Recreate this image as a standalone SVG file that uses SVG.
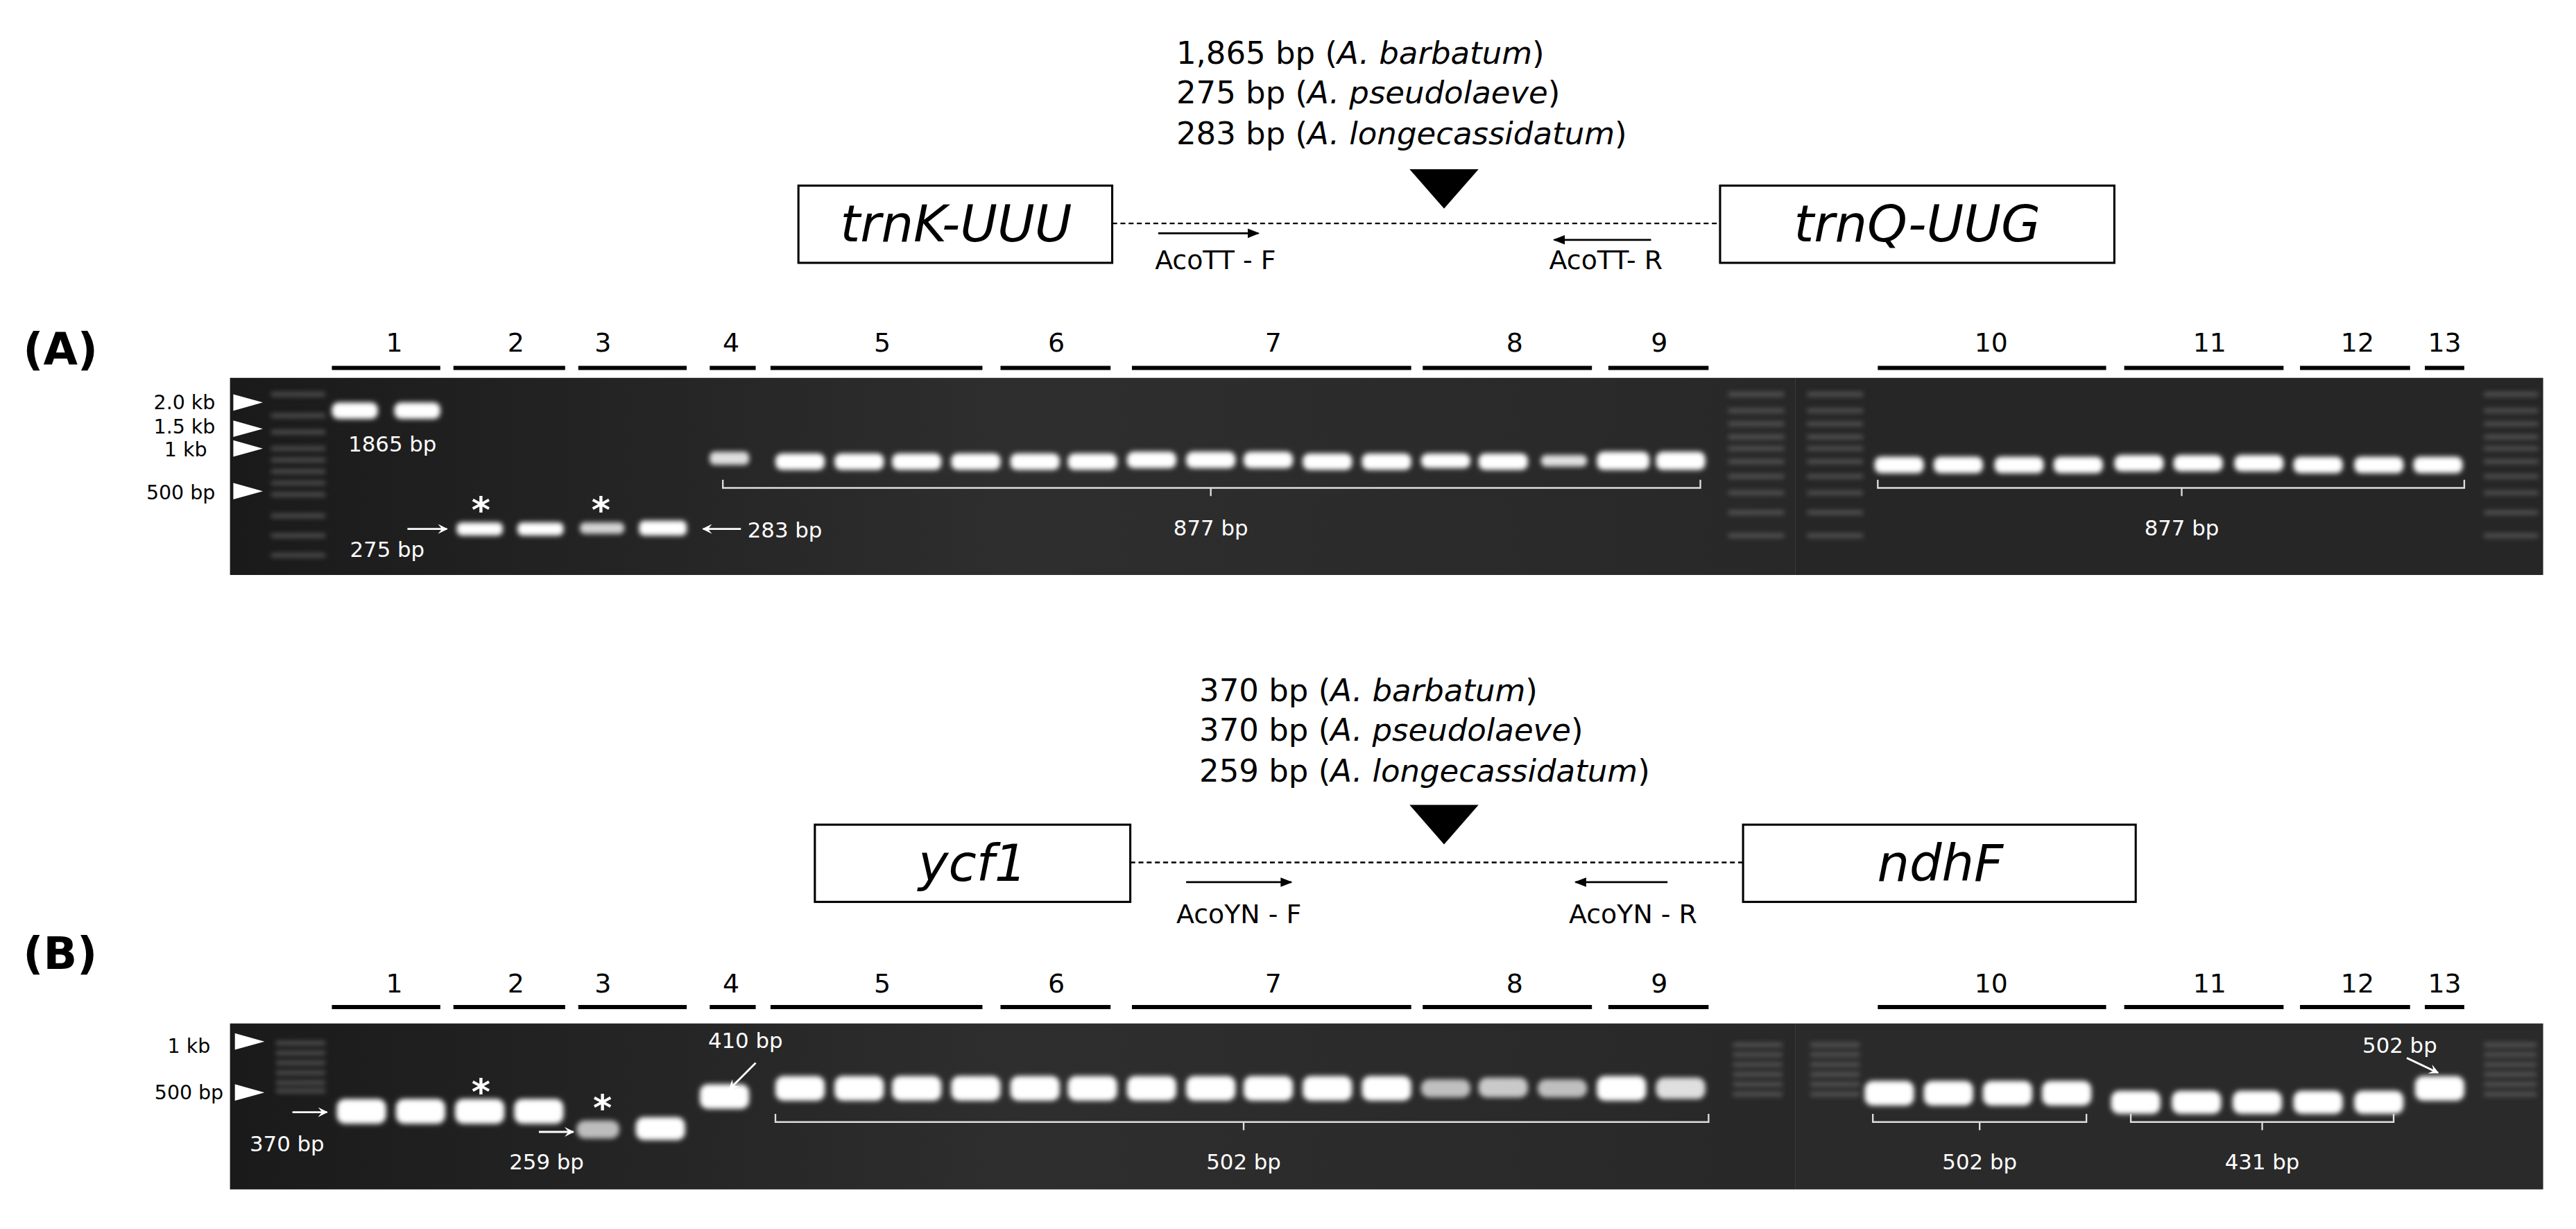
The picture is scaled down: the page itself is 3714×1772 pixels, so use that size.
<svg xmlns="http://www.w3.org/2000/svg" width="3714" height="1772" viewBox="0 0 3714 1772">
<defs>
<filter id="g" x="-30%" y="-80%" width="160%" height="260%"><feGaussianBlur stdDeviation="1.6"/></filter>
<linearGradient id="gel" x1="0" y1="0" x2="1" y2="0"><stop offset="0" stop-color="#1a1a1a"/><stop offset="0.5" stop-color="#2e2e2e"/><stop offset="1" stop-color="#282828"/></linearGradient>
<marker id="ah" viewBox="0 0 10 10" refX="9" refY="5" markerWidth="6" markerHeight="6" orient="auto"><path d="M0,1 L10,5 L0,9 z" fill="#000"/></marker>
<marker id="wh" viewBox="0 0 10 10" refX="9" refY="5" markerWidth="5" markerHeight="5" orient="auto"><path d="M0,0 L10,5 L0,10 L4,5 z" fill="#fff"/></marker>
<style>
text{font-family:"DejaVu Sans","Noto Sans",sans-serif;}
.t{font-size:19px;fill:#000}
.lab{font-size:16px;fill:#000}
.num{font-size:16px;fill:#000;text-anchor:middle}
.gene{font-size:31px;font-style:italic;text-anchor:middle}
.box{fill:#fff;stroke:#000;stroke-width:1.3}
.bar{stroke:#000;stroke-width:2.5}
.dash{stroke:#000;stroke-width:1;stroke-dasharray:3,2}
.pr{stroke:#000;stroke-width:1.2;marker-end:url(#ah)}
.w{fill:#fff;font-size:13px}
.ast{fill:#fff;font-size:22px;font-weight:bold}
.wa{stroke:#fff;stroke-width:1.2;fill:none;marker-end:url(#wh)}
.br{stroke:#ddd;stroke-width:1;fill:none}
.b{fill:#fff;filter:url(#g)}
.ld{stroke:#777;stroke-width:2.5;filter:url(#g);opacity:0.6}
.mk{fill:#fff}
.pl{font-size:27px;font-weight:bold}
.mt{font-size:12px;fill:#000;text-anchor:end}
</style>
</defs>
<g transform="scale(2.36862)">
<g id="infoA">
<text class="t" x="716" y="39">1,865 bp (<tspan font-style="italic">A. barbatum</tspan>)</text>
<text class="t" x="716" y="63">275 bp (<tspan font-style="italic">A. pseudolaeve</tspan>)</text>
<text class="t" x="716" y="88">283 bp (<tspan font-style="italic">A. longecassidatum</tspan>)</text>
<polygon points="858,103 900,103 879,127" fill="#000"/>
</g>
<g id="trnK"><rect class="box" x="486" y="113" width="191" height="47"/><text class="gene" x="582" y="147">trnK-UUU</text></g>
<g id="trnQ"><rect class="box" x="1047" y="113" width="240" height="47"/><text class="gene" x="1167" y="147">trnQ-UUG</text></g>
<g id="connectorsA">
<line class="dash" x1="677" y1="136" x2="1047" y2="136"/>
<line class="pr" x1="705" y1="142" x2="766" y2="142"/>
<line class="pr" x1="1005" y1="146" x2="946" y2="146"/>
</g>
<text class="lab" x="703" y="164">AcoTT - F</text>
<text class="lab" x="943" y="164">AcoTT- R</text>
<text class="pl" x="14" y="222">(A)</text>
<g id="lanesA">
<text class="num" x="240" y="214">1</text><text class="num" x="314" y="214">2</text><text class="num" x="367" y="214">3</text><text class="num" x="445" y="214">4</text><text class="num" x="537" y="214">5</text><text class="num" x="643" y="214">6</text><text class="num" x="775" y="214">7</text><text class="num" x="922" y="214">8</text><text class="num" x="1010" y="214">9</text><text class="num" x="1212" y="214">10</text><text class="num" x="1345" y="214">11</text><text class="num" x="1435" y="214">12</text><text class="num" x="1488" y="214">13</text>
<path class="bar" d="M202,224H268M276,224H344M352,224H418M432,224H460M469,224H598M609,224H676M689,224H859M866,224H969M979,224H1040M1143,224H1282M1293,224H1390M1400,224H1467M1476,224H1500"/>
</g>
<g id="gelA">
<rect x="140" y="230" width="953" height="120" fill="url(#gel)"/>
<rect x="1093" y="230" width="455" height="120" fill="#262626"/>
<path class="ld" d="M165,240H198M165,253H198M165,263H198M165,273H198M165,280H198M165,287H198M165,294H198M165,301H198M165,314H198M165,326H198M165,338H198"/>
<path class="ld" d="M1052,240H1086M1052,250H1086M1052,258H1086M1052,266H1086M1052,273H1086M1052,281H1086M1052,290H1086M1052,300H1086M1052,312H1086M1052,326H1086"/>
<path class="ld" d="M1100,240H1134M1100,250H1134M1100,258H1134M1100,266H1134M1100,273H1134M1100,281H1134M1100,290H1134M1100,300H1134M1100,312H1134M1100,326H1134"/>
<path class="ld" d="M1512,240H1545M1512,250H1545M1512,258H1545M1512,266H1545M1512,273H1545M1512,281H1545M1512,290H1545M1512,300H1545M1512,312H1545M1512,326H1545"/>
<polygon class="mk" points="142,240 160,245 142,250"/><polygon class="mk" points="142,256 160,261 142,266"/><polygon class="mk" points="142,268 160,273 142,278"/><polygon class="mk" points="142,294 160,299 142,304"/>
<g>
<rect class="b" x="202" y="245" width="28" height="10" rx="4"/><rect class="b" x="240" y="245" width="28" height="10" rx="4"/>
<rect class="b" x="278" y="318" width="28" height="8" rx="3"/><rect class="b" x="315" y="318" width="28" height="8" rx="3"/><rect class="b" x="353" y="318" width="27" height="7" rx="3" opacity="0.8"/><rect class="b" x="389" y="317" width="29" height="9" rx="3"/>
<rect class="b" x="432" y="275" width="24" height="8" rx="3" opacity="0.85"/>
<rect class="b" x="472" y="276" width="30" height="10" rx="4"/><rect class="b" x="508" y="276" width="30" height="10" rx="4"/><rect class="b" x="543" y="276" width="30" height="10" rx="4"/><rect class="b" x="579" y="276" width="30" height="10" rx="4"/><rect class="b" x="615" y="276" width="30" height="10" rx="4"/><rect class="b" x="650" y="276" width="30" height="10" rx="4"/><rect class="b" x="686" y="275" width="30" height="10" rx="4"/><rect class="b" x="722" y="275" width="30" height="10" rx="4"/><rect class="b" x="757" y="275" width="30" height="10" rx="4"/><rect class="b" x="793" y="276" width="30" height="10" rx="4"/><rect class="b" x="829" y="276" width="30" height="10" rx="4"/><rect class="b" x="865" y="276" width="30" height="9" rx="4"/><rect class="b" x="900" y="276" width="30" height="10" rx="4"/><rect class="b" x="938" y="277" width="28" height="7" rx="3" opacity="0.85"/><rect class="b" x="972" y="275" width="32" height="11" rx="4"/><rect class="b" x="1008" y="275" width="30" height="11" rx="4"/>
<rect class="b" x="1141" y="278" width="30" height="10" rx="4"/><rect class="b" x="1177" y="278" width="30" height="10" rx="4"/><rect class="b" x="1214" y="278" width="30" height="10" rx="4"/><rect class="b" x="1250" y="278" width="30" height="10" rx="4"/><rect class="b" x="1287" y="277" width="30" height="10" rx="4"/><rect class="b" x="1323" y="277" width="30" height="10" rx="4"/><rect class="b" x="1360" y="277" width="30" height="10" rx="4"/><rect class="b" x="1396" y="278" width="30" height="10" rx="4"/><rect class="b" x="1433" y="278" width="30" height="10" rx="4"/><rect class="b" x="1469" y="278" width="30" height="10" rx="4"/>
</g>
<text class="w" x="212" y="275">1865 bp</text>
<text class="w" x="213" y="339">275 bp</text>
<line class="wa" x1="248" y1="322" x2="272" y2="322"/>
<line class="wa" x1="451" y1="322" x2="428" y2="322"/>
<text class="w" x="455" y="327">283 bp</text>
<text class="ast" x="287" y="318">*</text><text class="ast" x="360" y="318">*</text>
<path class="br" d="M440,292V297H1035V292M737,297V302"/>
<text class="w" x="737" y="326" text-anchor="middle">877 bp</text>
<path class="br" d="M1143,292V297H1500V292M1328,297V302"/>
<text class="w" x="1328" y="326" text-anchor="middle">877 bp</text>
</g>
<g id="markersA">
<text class="mt" x="131" y="249">2.0 kb</text>
<text class="mt" x="131" y="264">1.5 kb</text>
<text class="mt" x="126" y="278">1 kb</text>
<text class="mt" x="131" y="304">500 bp</text>
</g>
<g id="infoB">
<text class="t" x="730" y="427">370 bp (<tspan font-style="italic">A. barbatum</tspan>)</text>
<text class="t" x="730" y="451">370 bp (<tspan font-style="italic">A. pseudolaeve</tspan>)</text>
<text class="t" x="730" y="476">259 bp (<tspan font-style="italic">A. longecassidatum</tspan>)</text>
<polygon points="858,490 900,490 879,514" fill="#000"/>
</g>
<g id="ycf1"><rect class="box" x="496" y="502" width="192" height="47"/><text class="gene" x="592" y="536">ycf1</text></g>
<g id="ndhF"><rect class="box" x="1061" y="502" width="239" height="47"/><text class="gene" x="1181" y="536">ndhF</text></g>
<g id="connectorsB">
<line class="dash" x1="688" y1="525" x2="1061" y2="525"/>
<line class="pr" x1="722" y1="537" x2="786" y2="537"/>
<line class="pr" x1="1015" y1="537" x2="959" y2="537"/>
</g>
<text class="lab" x="716" y="562">AcoYN - F</text>
<text class="lab" x="955" y="562">AcoYN - R</text>
<text class="pl" x="14" y="590">(B)</text>
<g id="lanesB">
<text class="num" x="240" y="604">1</text><text class="num" x="314" y="604">2</text><text class="num" x="367" y="604">3</text><text class="num" x="445" y="604">4</text><text class="num" x="537" y="604">5</text><text class="num" x="643" y="604">6</text><text class="num" x="775" y="604">7</text><text class="num" x="922" y="604">8</text><text class="num" x="1010" y="604">9</text><text class="num" x="1212" y="604">10</text><text class="num" x="1345" y="604">11</text><text class="num" x="1435" y="604">12</text><text class="num" x="1488" y="604">13</text>
<path class="bar" d="M202,613H268M276,613H344M352,613H418M432,613H460M469,613H598M609,613H676M689,613H859M866,613H969M979,613H1040M1143,613H1282M1293,613H1390M1400,613H1467M1476,613H1500"/>
</g>
<g id="gelB">
<rect x="140" y="623" width="953" height="101" fill="url(#gel)"/>
<rect x="1093" y="623" width="455" height="101" fill="#2a2a2a"/>
<path class="ld" d="M168,635H198M168,641H198M168,647H198M168,653H198M168,659H198M168,664H198"/>
<path class="ld" d="M1055,636H1085M1055,642H1085M1055,648H1085M1055,654H1085M1055,660H1085M1055,666H1085"/>
<path class="ld" d="M1102,636H1132M1102,642H1132M1102,648H1132M1102,654H1132M1102,660H1132M1102,666H1132"/>
<path class="ld" d="M1512,636H1544M1512,642H1544M1512,648H1544M1512,654H1544M1512,660H1544M1512,666H1544"/>
<polygon class="mk" points="143,629 161,634 143,639"/><polygon class="mk" points="143,660 161,665 143,670"/>
<g>
<rect class="b" x="205" y="669" width="30" height="15" rx="5"/><rect class="b" x="241" y="669" width="30" height="15" rx="5"/><rect class="b" x="277" y="669" width="30" height="15" rx="5"/><rect class="b" x="313" y="669" width="30" height="15" rx="5"/>
<rect class="b" x="351" y="682" width="26" height="11" rx="5" opacity="0.7"/><rect class="b" x="387" y="680" width="30" height="14" rx="5"/>
<rect class="b" x="426" y="660" width="30" height="15" rx="5"/>
<rect class="b" x="472" y="655" width="30" height="15" rx="5"/><rect class="b" x="508" y="655" width="30" height="15" rx="5"/><rect class="b" x="543" y="655" width="30" height="15" rx="5"/><rect class="b" x="579" y="655" width="30" height="15" rx="5"/><rect class="b" x="615" y="655" width="30" height="15" rx="5"/><rect class="b" x="650" y="655" width="30" height="15" rx="5"/><rect class="b" x="686" y="655" width="30" height="15" rx="5"/><rect class="b" x="722" y="655" width="30" height="15" rx="5"/><rect class="b" x="757" y="655" width="30" height="15" rx="5"/><rect class="b" x="793" y="655" width="30" height="15" rx="5"/><rect class="b" x="829" y="655" width="30" height="15" rx="5"/><rect class="b" x="865" y="657" width="30" height="11" rx="5" opacity="0.7"/><rect class="b" x="900" y="656" width="30" height="12" rx="5" opacity="0.75"/><rect class="b" x="936" y="657" width="30" height="11" rx="5" opacity="0.7"/><rect class="b" x="972" y="655" width="30" height="15" rx="5"/><rect class="b" x="1008" y="656" width="30" height="13" rx="5" opacity="0.85"/>
<rect class="b" x="1135" y="658" width="30" height="15" rx="5"/><rect class="b" x="1171" y="658" width="30" height="15" rx="5"/><rect class="b" x="1207" y="658" width="30" height="15" rx="5"/><rect class="b" x="1243" y="658" width="30" height="15" rx="5"/>
<rect class="b" x="1285" y="664" width="30" height="14" rx="5"/><rect class="b" x="1322" y="664" width="30" height="14" rx="5"/><rect class="b" x="1359" y="664" width="30" height="14" rx="5"/><rect class="b" x="1396" y="664" width="30" height="14" rx="5"/><rect class="b" x="1433" y="664" width="30" height="14" rx="5"/>
<rect class="b" x="1470" y="655" width="30" height="15" rx="5"/>
</g>
<line class="wa" x1="178" y1="677" x2="199" y2="677"/>
<text class="w" x="152" y="701">370 bp</text>
<line class="wa" x1="328" y1="689" x2="349" y2="689"/>
<text class="w" x="310" y="712">259 bp</text>
<text class="w" x="431" y="638">410 bp</text>
<line class="wa" x1="460" y1="647" x2="444" y2="663"/>
<text class="ast" x="287" y="672">*</text><text class="ast" x="361" y="682">*</text>
<path class="br" d="M472,678V683H1040V678M757,683V688"/>
<text class="w" x="757" y="712" text-anchor="middle">502 bp</text>
<path class="br" d="M1140,678V683H1270V678M1205,683V688"/>
<text class="w" x="1205" y="712" text-anchor="middle">502 bp</text>
<path class="br" d="M1297,678V683H1457V678M1377,683V688"/>
<text class="w" x="1377" y="712" text-anchor="middle">431 bp</text>
<text class="w" x="1438" y="641">502 bp</text>
<line class="wa" x1="1465" y1="644" x2="1484" y2="653"/>
</g>
<g id="markersB">
<text class="mt" x="128" y="641">1 kb</text>
<text class="mt" x="136" y="669">500 bp</text>
</g>
</g>
</svg>
